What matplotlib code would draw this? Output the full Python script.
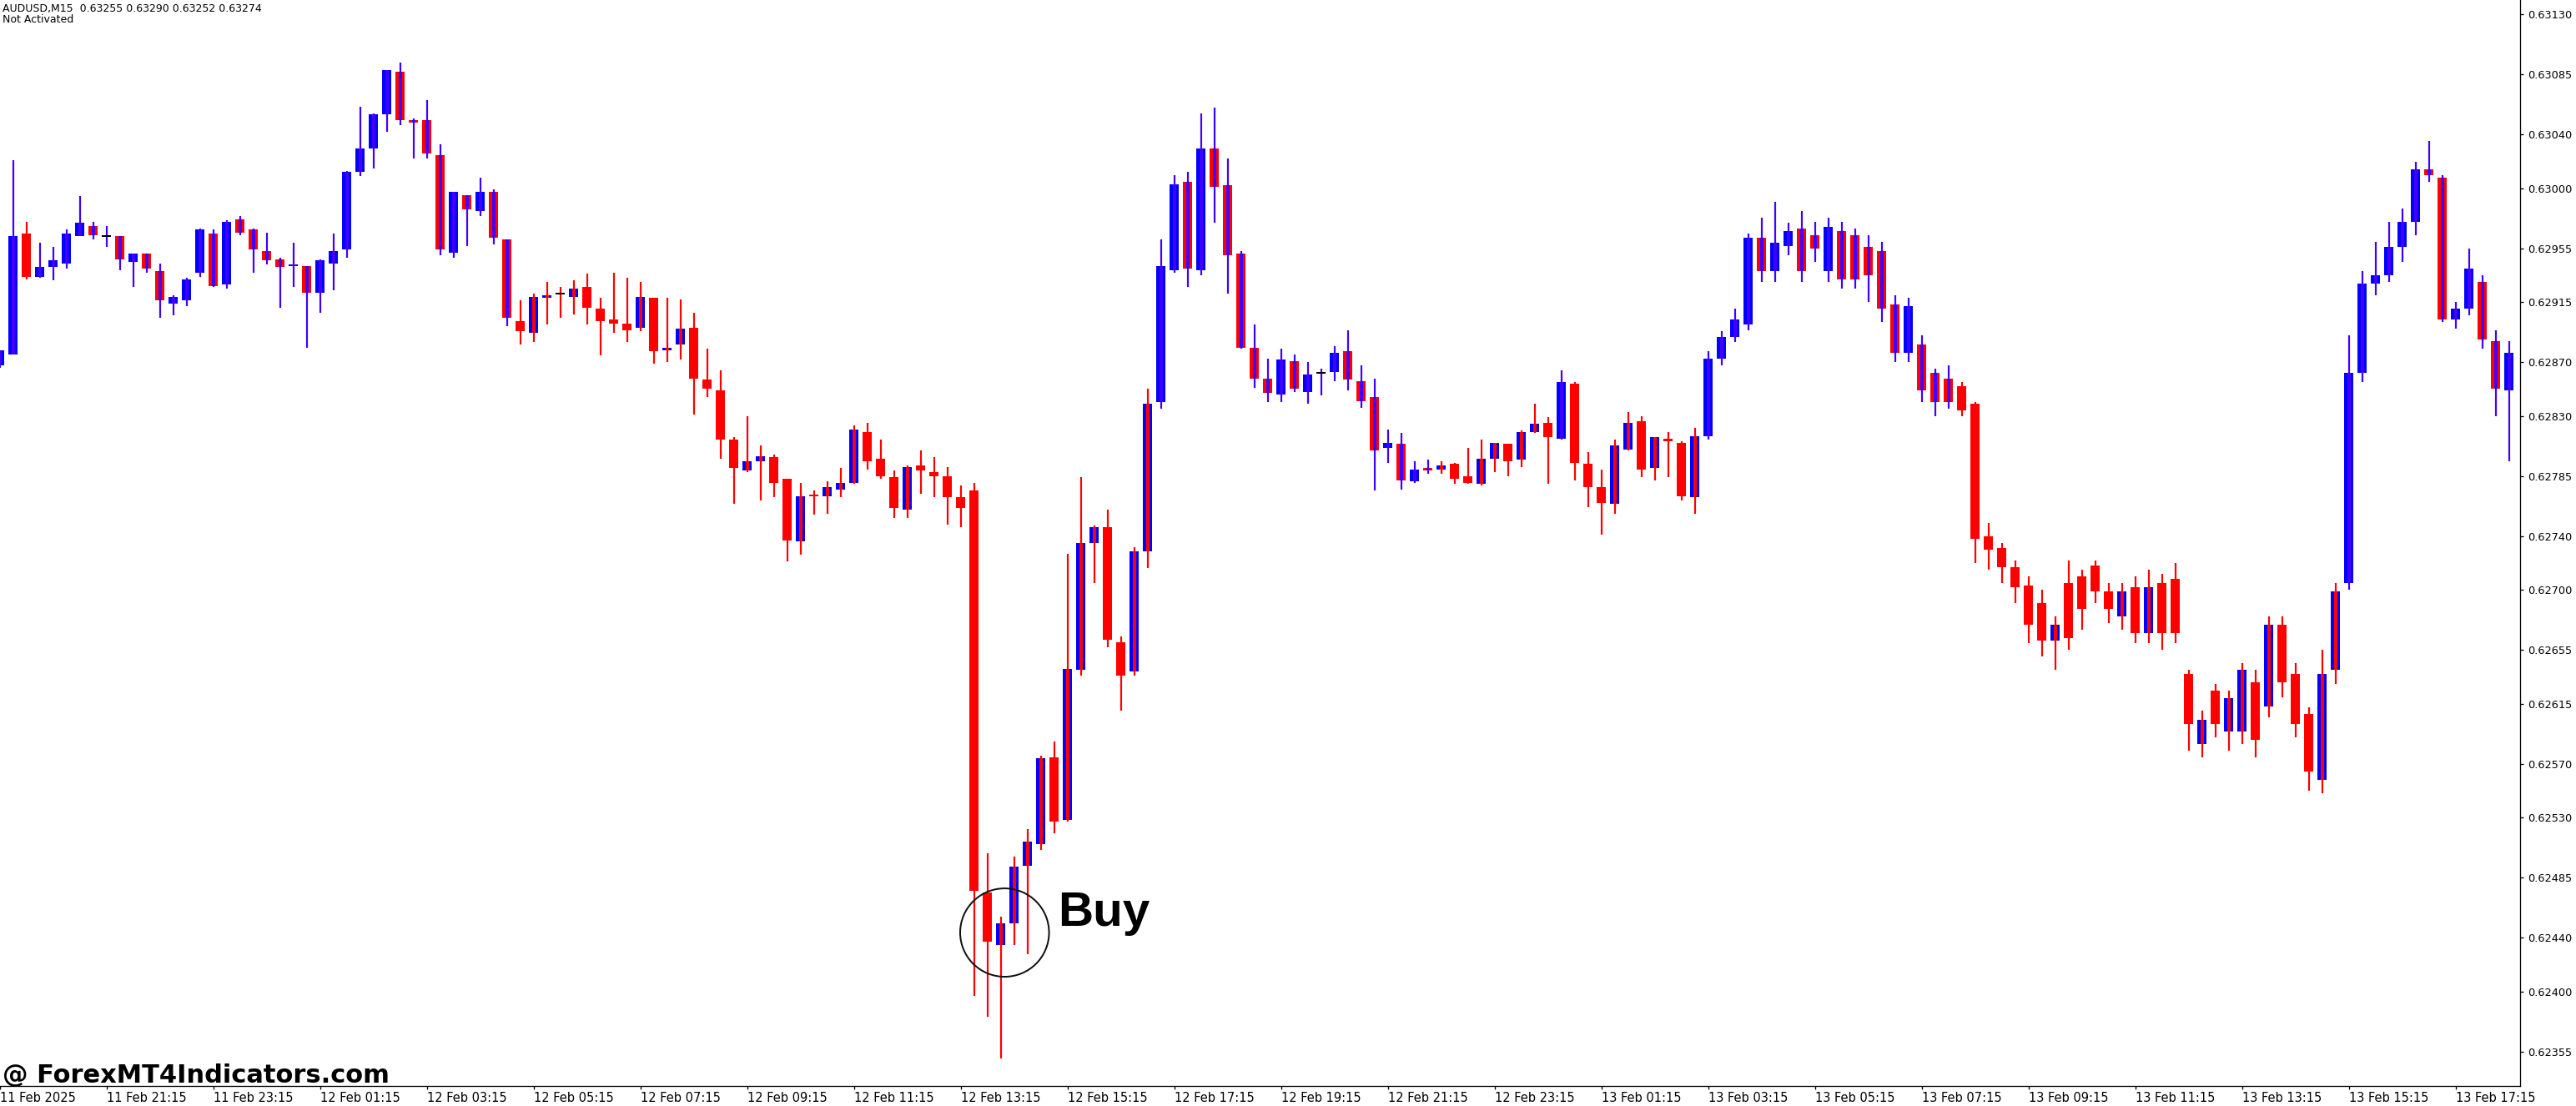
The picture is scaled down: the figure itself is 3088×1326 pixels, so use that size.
import numpy as np
import matplotlib.pyplot as plt
from matplotlib.patches import Ellipse

OUT_FILE = "out.png"
FIG_W_PX, FIG_H_PX, DPI = 3088, 1326, 100
AX_RIGHT_PX = 3021      # right price axis line
AX_BOTTOM_PX = 1302     # time axis line
BAR_PITCH_PX = 16       # one M15 bar

BULL_COLOR = "#0000ff"
BEAR_COLOR = "#ff0000"
WICK_UP = "#4000ff"
WICK_DN = "#ff0000"

HEADER = "AUDUSD,M15  0.63255 0.63290 0.63252 0.63274"
STATUS = "Not Activated"
WATERMARK = "@ ForexMT4Indicators.com"
BUY_TEXT = "Buy"

# OHLC of the visible M15 bars, 11 Feb 19:15 onwards
opens = [
  0.62868, 0.62876, 0.62966, 0.62934, 0.62941, 0.62944, 0.62964, 0.62972, 0.62964, 0.62964,
  0.62945, 0.62951, 0.62938, 0.62914, 0.62916, 0.62937, 0.62966, 0.62928, 0.62977, 0.62969,
  0.62953, 0.62947, 0.62942, 0.62942, 0.62922, 0.62944, 0.62954, 0.63012, 0.63030, 0.63055,
  0.63087, 0.63051, 0.63051, 0.63025, 0.62952, 0.62995, 0.62983, 0.62997, 0.62962, 0.62901,
  0.62892, 0.62918, 0.62921, 0.62919, 0.62926, 0.62910, 0.62902, 0.62899, 0.62896, 0.62918,
  0.62879, 0.62883, 0.62896, 0.62857, 0.62849, 0.62812, 0.62789, 0.62796, 0.62799, 0.62783,
  0.62736, 0.62771, 0.62770, 0.62775, 0.62780, 0.62818, 0.62798, 0.62784, 0.62760, 0.62793,
  0.62788, 0.62785, 0.62769, 0.62774, 0.62474, 0.62435, 0.62451, 0.62494, 0.62510, 0.62575,
  0.62528, 0.62640, 0.62735, 0.62747, 0.62661, 0.62639, 0.62729, 0.62840, 0.62939, 0.63005,
  0.62939, 0.63030, 0.63002, 0.62951, 0.62881, 0.62858, 0.62846, 0.62871, 0.62848, 0.62862,
  0.62863, 0.62878, 0.62856, 0.62844, 0.62806, 0.62809, 0.62781, 0.62791, 0.62790, 0.62794,
  0.62785, 0.62779, 0.62798, 0.62809, 0.62797, 0.62818, 0.62825, 0.62813, 0.62854, 0.62794,
  0.62777, 0.62764, 0.62805, 0.62826, 0.62791, 0.62813, 0.62810, 0.62769, 0.62815, 0.62873,
  0.62889, 0.62898, 0.62963, 0.62938, 0.62957, 0.62970, 0.62965, 0.62938, 0.62968, 0.62965,
  0.62956, 0.62953, 0.62913, 0.62877, 0.62883, 0.62862, 0.62858, 0.62852, 0.62839, 0.62740,
  0.62731, 0.62717, 0.62703, 0.62690, 0.62662, 0.62705, 0.62710, 0.62718, 0.62699, 0.62680,
  0.62702, 0.62668, 0.62705, 0.62708, 0.62637, 0.62585, 0.62625, 0.62594, 0.62594, 0.62631,
  0.62613, 0.62674, 0.62637, 0.62607, 0.62558, 0.62640, 0.62705, 0.62862, 0.62929, 0.62935,
  0.62956, 0.62975, 0.63014, 0.63008, 0.62902, 0.62910, 0.62930, 0.62886, 0.62849,
]
highs = [
  0.62879, 0.63021, 0.62975, 0.62959, 0.62956, 0.62969, 0.62994, 0.62975, 0.62972, 0.62964,
  0.62951, 0.62951, 0.62944, 0.62920, 0.62933, 0.62970, 0.62969, 0.62976, 0.62979, 0.62970,
  0.62967, 0.62948, 0.62959, 0.62942, 0.62947, 0.62966, 0.63013, 0.63061, 0.63056, 0.63088,
  0.63094, 0.63052, 0.63066, 0.63033, 0.62997, 0.62995, 0.63008, 0.62999, 0.62962, 0.62916,
  0.62921, 0.62930, 0.62926, 0.62931, 0.62936, 0.62918, 0.62937, 0.62933, 0.62930, 0.62918,
  0.62918, 0.62917, 0.62907, 0.62880, 0.62864, 0.62814, 0.62830, 0.62808, 0.62801, 0.62783,
  0.62780, 0.62774, 0.62781, 0.62791, 0.62823, 0.62825, 0.62812, 0.62789, 0.62793, 0.62804,
  0.62799, 0.62792, 0.62778, 0.62780, 0.62503, 0.62456, 0.62501, 0.62521, 0.62576, 0.62587,
  0.62727, 0.62784, 0.62748, 0.62760, 0.62665, 0.62732, 0.62850, 0.62962, 0.63010, 0.63012,
  0.63056, 0.63060, 0.63022, 0.62953, 0.62898, 0.62873, 0.62880, 0.62876, 0.62870, 0.62865,
  0.62882, 0.62894, 0.62868, 0.62858, 0.62820, 0.62817, 0.62796, 0.62797, 0.62796, 0.62795,
  0.62806, 0.62812, 0.62810, 0.62809, 0.62819, 0.62839, 0.62829, 0.62864, 0.62855, 0.62803,
  0.62790, 0.62812, 0.62833, 0.62830, 0.62814, 0.62818, 0.62811, 0.62821, 0.62878, 0.62893,
  0.62910, 0.62966, 0.62978, 0.62990, 0.62974, 0.62983, 0.62975, 0.62978, 0.62975, 0.62970,
  0.62965, 0.62960, 0.62920, 0.62918, 0.62890, 0.62865, 0.62868, 0.62855, 0.62840, 0.62750,
  0.62735, 0.62722, 0.62710, 0.62700, 0.62680, 0.62722, 0.62715, 0.62722, 0.62705, 0.62705,
  0.62710, 0.62715, 0.62712, 0.62720, 0.62640, 0.62610, 0.62630, 0.62625, 0.62645, 0.62640,
  0.62680, 0.62680, 0.62645, 0.62612, 0.62655, 0.62705, 0.62890, 0.62938, 0.62960, 0.62975,
  0.62985, 0.63020, 0.63035, 0.63010, 0.62915, 0.62955, 0.62935, 0.62894, 0.62886,
]
lows = [
  0.62866, 0.62876, 0.62932, 0.62933, 0.62931, 0.62940, 0.62964, 0.62962, 0.62956, 0.62939,
  0.62926, 0.62937, 0.62903, 0.62905, 0.62912, 0.62934, 0.62926, 0.62925, 0.62965, 0.62937,
  0.62943, 0.62911, 0.62926, 0.62881, 0.62907, 0.62924, 0.62948, 0.63009, 0.63015, 0.63042,
  0.63047, 0.63022, 0.63022, 0.62950, 0.62948, 0.62957, 0.62979, 0.62958, 0.62897, 0.62883,
  0.62885, 0.62898, 0.62903, 0.62906, 0.62898, 0.62875, 0.62892, 0.62885, 0.62893, 0.62869,
  0.62870, 0.62872, 0.62831, 0.62844, 0.62798, 0.62764, 0.62788, 0.62767, 0.62769, 0.62721,
  0.62726, 0.62756, 0.62757, 0.62769, 0.62779, 0.62790, 0.62783, 0.62754, 0.62754, 0.62772,
  0.62769, 0.62749, 0.62747, 0.62397, 0.62381, 0.62350, 0.62435, 0.62428, 0.62506, 0.62518,
  0.62527, 0.62636, 0.62705, 0.62657, 0.62610, 0.62636, 0.62716, 0.62835, 0.62937, 0.62926,
  0.62935, 0.62974, 0.62921, 0.62880, 0.62851, 0.62840, 0.62840, 0.62848, 0.62839, 0.62845,
  0.62856, 0.62849, 0.62836, 0.62774, 0.62795, 0.62775, 0.62780, 0.62787, 0.62787, 0.62779,
  0.62779, 0.62778, 0.62788, 0.62785, 0.62792, 0.62817, 0.62779, 0.62812, 0.62782, 0.62762,
  0.62741, 0.62757, 0.62804, 0.62784, 0.62782, 0.62784, 0.62767, 0.62757, 0.62812, 0.62868,
  0.62885, 0.62894, 0.62930, 0.62930, 0.62950, 0.62930, 0.62945, 0.62930, 0.62925, 0.62925,
  0.62915, 0.62900, 0.62870, 0.62870, 0.62840, 0.62830, 0.62835, 0.62830, 0.62720, 0.62715,
  0.62705, 0.62690, 0.62660, 0.62650, 0.62640, 0.62655, 0.62670, 0.62690, 0.62675, 0.62670,
  0.62660, 0.62660, 0.62655, 0.62660, 0.62580, 0.62575, 0.62590, 0.62580, 0.62585, 0.62575,
  0.62605, 0.62620, 0.62590, 0.62550, 0.62548, 0.62630, 0.62700, 0.62855, 0.62920, 0.62930,
  0.62945, 0.62965, 0.63005, 0.62900, 0.62895, 0.62905, 0.62880, 0.62830, 0.62796,
]
closes = [
  0.62879, 0.62964, 0.62934, 0.62941, 0.62946, 0.62966, 0.62974, 0.62965, 0.62964, 0.62947,
  0.62951, 0.62940, 0.62916, 0.62919, 0.62932, 0.62969, 0.62927, 0.62975, 0.62967, 0.62954,
  0.62946, 0.62941, 0.62943, 0.62922, 0.62946, 0.62953, 0.63012, 0.63030, 0.63055, 0.63088,
  0.63051, 0.63049, 0.63026, 0.62954, 0.62997, 0.62984, 0.62997, 0.62963, 0.62903, 0.62893,
  0.62919, 0.62920, 0.62921, 0.62925, 0.62911, 0.62901, 0.62899, 0.62894, 0.62919, 0.62878,
  0.62881, 0.62895, 0.62858, 0.62850, 0.62812, 0.62791, 0.62796, 0.62800, 0.62780, 0.62737,
  0.62770, 0.62770, 0.62777, 0.62780, 0.62820, 0.62796, 0.62785, 0.62761, 0.62792, 0.62789,
  0.62785, 0.62769, 0.62761, 0.62475, 0.62437, 0.62451, 0.62493, 0.62512, 0.62574, 0.62527,
  0.62641, 0.62735, 0.62747, 0.62663, 0.62636, 0.62729, 0.62839, 0.62942, 0.63003, 0.62940,
  0.63030, 0.63001, 0.62950, 0.62881, 0.62858, 0.62847, 0.62872, 0.62850, 0.62861, 0.62862,
  0.62877, 0.62857, 0.62841, 0.62804, 0.62810, 0.62782, 0.62790, 0.62789, 0.62793, 0.62783,
  0.62780, 0.62798, 0.62810, 0.62796, 0.62818, 0.62824, 0.62814, 0.62855, 0.62795, 0.62777,
  0.62765, 0.62808, 0.62825, 0.62790, 0.62814, 0.62811, 0.62770, 0.62815, 0.62873, 0.62889,
  0.62902, 0.62963, 0.62938, 0.62959, 0.62968, 0.62938, 0.62955, 0.62971, 0.62932, 0.62932,
  0.62935, 0.62910, 0.62877, 0.62912, 0.62849, 0.62840, 0.62840, 0.62834, 0.62738, 0.62730,
  0.62717, 0.62702, 0.62674, 0.62662, 0.62674, 0.62664, 0.62686, 0.62699, 0.62686, 0.62699,
  0.62668, 0.62702, 0.62668, 0.62668, 0.62600, 0.62603, 0.62600, 0.62619, 0.62640, 0.62588,
  0.62674, 0.62631, 0.62600, 0.62564, 0.62637, 0.62699, 0.62862, 0.62929, 0.62935, 0.62956,
  0.62975, 0.63014, 0.63010, 0.62902, 0.62910, 0.62940, 0.62887, 0.62850, 0.62877,
]

# trend state of the overlay indicator: (first bar of the stretch, state)
trend_starts = [
  (0, "up"), (2, "dn"), (3, "up"), (39, "dn"), (87, "up"), (108, "dn"),
  (117, "up"), (118, "dn"), (128, "up"), (147, "dn"), (176, "up"),
]

price_ticks = [
  0.63130, 0.63085, 0.63040, 0.63000, 0.62955, 0.62915, 0.62870, 0.62830,
  0.62785, 0.62740, 0.62700, 0.62655, 0.62615, 0.62570, 0.62530, 0.62485,
  0.62440, 0.62400, 0.62355,
]
time_labels = [
  "11 Feb 2025", "11 Feb 21:15", "11 Feb 23:15", "12 Feb 01:15", "12 Feb 03:15",
  "12 Feb 05:15", "12 Feb 07:15", "12 Feb 09:15", "12 Feb 11:15", "12 Feb 13:15",
  "12 Feb 15:15", "12 Feb 17:15", "12 Feb 19:15", "12 Feb 21:15", "12 Feb 23:15",
  "13 Feb 01:15", "13 Feb 03:15", "13 Feb 05:15", "13 Feb 07:15", "13 Feb 09:15",
  "13 Feb 11:15", "13 Feb 13:15", "13 Feb 15:15", "13 Feb 17:15",
]
BARS_PER_LABEL = 8

# price window shown by the terminal
PRICE_TOP = 0.631406
PRICE_BOTTOM = 0.623294

# "Buy" mark near the spike low
BUY_CIRCLE_BAR, BUY_CIRCLE_PRICE = 75.28, 0.62444
BUY_CIRCLE_W_BARS, BUY_CIRCLE_H_PRICE = 6.66, 0.00066
BUY_TEXT_BAR, BUY_TEXT_PRICE = 79.3, 0.62449


#______________________________________________________________________________
def px_to_pt(px: float) -> float:
  return px * 72.0 / DPI


#______________________________________________________________________________
def wick_colors(n: int) -> list[str]:
  """Expand the trend stretches to one wick colour per bar."""
  out = []
  starts = trend_starts + [(n, None)]
  for (first, state), (nxt, _) in zip(starts[:-1], starts[1:]):
    out += [WICK_UP if state == "up" else WICK_DN] * (nxt - first)
  return out


#______________________________________________________________________________
def draw_candles(ax) -> None:
  o = np.array(opens)
  h = np.array(highs)
  l = np.array(lows)
  c = np.array(closes)
  x = np.arange(len(o))
  bull = c >= o
  lo_body = np.minimum(o, c)
  hi_body = np.maximum(o, c)
  body_w = 11.0 / BAR_PITCH_PX

  ax.bar(
    x, hi_body - lo_body, bottom=lo_body, width=body_w,
    color=np.where(bull, BULL_COLOR, BEAR_COLOR), linewidth=0, zorder=2,
  )
  wc = wick_colors(len(o))
  ax.vlines(x, l, h, colors=wc, linewidth=px_to_pt(2.2), zorder=3)
  ax.vlines(x, lo_body, hi_body, colors=wc, linewidth=px_to_pt(4.0), zorder=3)

  doji = np.isclose(o, c)
  ax.hlines(
    o[doji], x[doji] - body_w / 2, x[doji] + body_w / 2,
    colors="black", linewidth=px_to_pt(2.0), zorder=4,
  )


#______________________________________________________________________________
def main() -> None:
  fig = plt.figure(figsize=(FIG_W_PX / DPI, FIG_H_PX / DPI), dpi=DPI)
  fig.patch.set_facecolor("white")
  ax = fig.add_axes([
    0.0, (FIG_H_PX - AX_BOTTOM_PX) / FIG_H_PX,
    AX_RIGHT_PX / FIG_W_PX, AX_BOTTOM_PX / FIG_H_PX,
  ])

  draw_candles(ax)

  ax.set_xlim(0.5 / BAR_PITCH_PX, (AX_RIGHT_PX + 0.5) / BAR_PITCH_PX)
  ax.set_ylim(PRICE_BOTTOM, PRICE_TOP)

  for side in ("left", "top"):
    ax.spines[side].set_visible(False)
  for side in ("right", "bottom"):
    ax.spines[side].set_linewidth(px_to_pt(1.3))
    ax.spines[side].set_color("black")

  ax.yaxis.tick_right()
  ax.set_yticks(price_ticks)
  ax.set_yticklabels([f"{p:.5f}" for p in price_ticks])
  ax.tick_params(
    axis="y", direction="out", length=px_to_pt(4), width=px_to_pt(1.3),
    pad=px_to_pt(5), labelsize=9.3, labelcolor="black",
  )

  ax.set_xticks(np.arange(len(time_labels)) * BARS_PER_LABEL)
  ax.set_xticklabels(
    time_labels, ha="left", fontsize=10.5,
    family=["Liberation Sans Narrow", "DejaVu Sans"],
  )
  ax.tick_params(
    axis="x", direction="out", length=px_to_pt(4), width=px_to_pt(1.3),
    pad=px_to_pt(3),
  )

  ax.add_patch(Ellipse(
    (BUY_CIRCLE_BAR, BUY_CIRCLE_PRICE), BUY_CIRCLE_W_BARS, BUY_CIRCLE_H_PRICE,
    fill=False, edgecolor="#111111", linewidth=px_to_pt(2.0), zorder=5,
  ))
  ax.text(
    BUY_TEXT_BAR, BUY_TEXT_PRICE, BUY_TEXT, fontsize=42, fontweight="bold",
    family=["Liberation Sans", "DejaVu Sans"], va="baseline", ha="left",
    zorder=5,
  )

  fig.text(3 / FIG_W_PX, 1 - 14 / FIG_H_PX, HEADER, fontsize=9,
           va="baseline", ha="left")
  fig.text(3 / FIG_W_PX, 1 - 27 / FIG_H_PX, STATUS, fontsize=9,
           va="baseline", ha="left")
  fig.text(3 / FIG_W_PX, 1 - 1298 / FIG_H_PX, WATERMARK, fontsize=22,
           fontweight="bold", va="baseline", ha="left", zorder=10)

  fig.savefig(OUT_FILE, dpi=DPI, facecolor="white")
  plt.close(fig)


if __name__ == "__main__":
  main()
